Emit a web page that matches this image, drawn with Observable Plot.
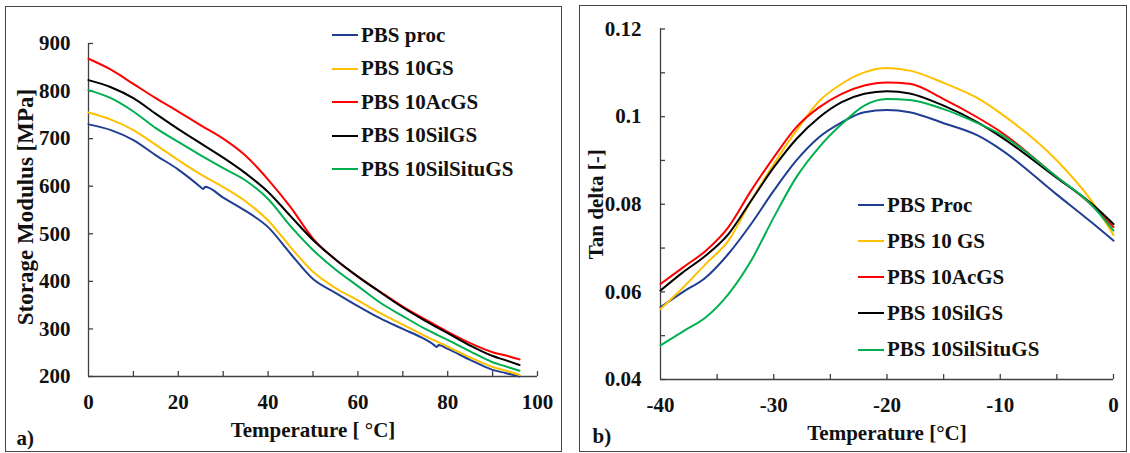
<!DOCTYPE html>
<html>
<head>
<meta charset="utf-8">
<script src="https://cdn.jsdelivr.net/npm/d3@7"></script>
<script src="https://cdn.jsdelivr.net/npm/@observablehq/plot@0.6"></script>
<style>
  html, body { margin: 0; padding: 0; background: #fff; }
  #page { position: relative; width: 1130px; height: 453px; overflow: hidden; font-family: "Liberation Serif", "Times New Roman", serif; font-weight: bold; }
  .panel { position: absolute; top: 0; }
  .box { position: absolute; border: 1.3px solid #444; box-sizing: border-box; pointer-events: none; }
  .legrow { position: absolute; display: flex; align-items: center; height: 24px; font-size: 21px; color: #111; white-space: nowrap; }
  .sw { display: inline-block; width: 26px; height: 2px; margin-right: 3px; }
</style>
</head>
<body>
<div id="page">
  <div class="panel" id="pa" style="left:0px"></div>
  <div class="panel" id="pb" style="left:565px"></div>
  <div class="box" style="left:5px; top:6px; width:557px; height:446px"></div>
  <div class="box" style="left:579px; top:5px; width:548px; height:447px"></div>
</div>
<script>
// ---------- Panel a: Storage modulus ----------
const seriesA = ["PBS proc", "PBS 10GS", "PBS 10AcGS", "PBS 10SilGS", "PBS 10SilSituGS"];
const colors = ["#1F3E93", "#FFC000", "#FF0000", "#000000", "#00B050"];

const tempA = [0, 5, 10, 15, 20, 25, 30, 35, 40, 45, 50, 55, 60, 65, 70, 75, 80, 85, 90, 93, 96];
const tempProcA = [0, 5, 10, 15, 20, 25, 25.5, 26, 30, 35, 40, 45, 50, 55, 60, 65, 70, 75, 77, 77.5, 78, 80, 85, 90, 93, 96];
const procA     = [730, 718, 697, 665, 635, 598, 594, 599, 576, 548, 514, 458, 405, 376, 348, 322, 300, 278, 266, 262, 266, 258, 235, 214, 207, 200];
const gsA       = [755, 740, 718, 687, 655, 625, 598, 568, 528, 472, 420, 386, 360, 333, 309, 285, 263, 240, 220, 212, 203];
const acgsA     = [868, 845, 815, 785, 757, 728, 700, 664, 614, 556, 490, 446, 410, 378, 347, 320, 294, 270, 251, 244, 236];
const silgsA    = [823, 808, 785, 752, 720, 690, 660, 627, 588, 537, 487, 446, 410, 377, 345, 317, 291, 265, 243, 234, 224];
const silsituA  = [802, 785, 757, 722, 693, 665, 638, 612, 573, 516, 466, 425, 390, 355, 327, 300, 277, 253, 230, 221, 212];

const yTicksA = [200, 300, 400, 500, 600, 700, 800, 900];
const xTicksA = [10, 20, 30, 40, 50, 60, 70, 80, 90, 100];
const xLabelsA = [0, 20, 40, 60, 80, 100];

// ---------- Panel b: Tan delta ----------
const seriesB = ["PBS Proc", "PBS 10 GS", "PBS 10AcGS", "PBS 10SilGS", "PBS 10SilSituGS"];
const tempB = [-40, -38, -36, -34, -32, -30, -28, -26, -24, -22, -20, -18, -15, -12, -10, -5, -2, 0];
const procB    = [0.0565, 0.0600, 0.0633, 0.0687, 0.0755, 0.0831, 0.0900, 0.0953, 0.0987, 0.1010, 0.1015, 0.1010, 0.0985, 0.0957, 0.0926, 0.0822, 0.0760, 0.0717];
const gsB      = [0.0561, 0.0610, 0.0664, 0.0717, 0.0808, 0.0892, 0.0968, 0.1035, 0.1075, 0.1101, 0.1111, 0.1105, 0.1077, 0.1042, 0.1008, 0.0900, 0.0810, 0.0730];
const acgsB    = [0.0618, 0.0656, 0.0694, 0.0748, 0.0831, 0.0907, 0.0976, 0.1021, 0.1052, 0.1071, 0.1078, 0.1075, 0.1040, 0.0998, 0.0966, 0.0862, 0.0800, 0.0748];
const silgsB   = [0.0603, 0.0645, 0.0683, 0.0732, 0.0808, 0.0884, 0.0949, 0.0998, 0.1033, 0.1052, 0.1058, 0.1053, 0.1025, 0.0987, 0.0955, 0.0860, 0.0803, 0.0755];
const silsituB = [0.0478, 0.0510, 0.0542, 0.0595, 0.0671, 0.0770, 0.0862, 0.0930, 0.0983, 0.1025, 0.1040, 0.1038, 0.1017, 0.0985, 0.0960, 0.0862, 0.0800, 0.0740];

const yTicksB = [0.04, 0.05, 0.06, 0.07, 0.08, 0.09, 0.10, 0.11, 0.12];
const yLabelsB = [0.04, 0.06, 0.08, 0.10, 0.12];
const xTicksB = [-35, -30, -25, -20, -15, -10, -5, 0];
const xLabelsB = [-40, -30, -20, -10, 0];

// ---------- build tables ----------
const rowsA = [];
[procA, gsA, acgsA, silgsA, silsituA].forEach((vals, i) => {
  const ts = i === 0 ? tempProcA : tempA;
  vals.forEach((v, j) => rowsA.push({s: seriesA[i], c: colors[i], t: ts[j], v}));
});
const rowsB = [];
[procB, gsB, acgsB, silgsB, silsituB].forEach((vals, i) => {
  vals.forEach((v, j) => rowsB.push({s: seriesB[i], c: colors[i], t: tempB[j], v}));
});

const font = {fontFamily: "'Liberation Serif', 'Times New Roman', serif", fontWeight: "bold", fontSize: "21px", color: "#111", background: "transparent", overflow: "visible"};
const axisColor = "#404040";
const plain = d => String(d);

// Panel a
const wA = 565, hA = 453, mlA = 88, mrA = 28, mtA = 43, mbA = 77;
const pwA = wA - mlA - mrA, phA = hA - mtA - mbA;
const plotA = Plot.plot({
  width: wA, height: hA, marginLeft: mlA, marginRight: mrA, marginTop: mtA, marginBottom: mbA,
  x: {domain: [0, 100]}, y: {domain: [200, 900]},
  style: font,
  marks: [
    Plot.axisY(yTicksA, {tickSize: 0, tickPadding: 18, label: null, tickFormat: plain, fill: "#111"}),
    Plot.axisX(xLabelsA, {tickSize: 0, tickPadding: 18, label: null, tickFormat: plain, fill: "#111"}),
    Plot.ruleX([0], {stroke: axisColor, strokeWidth: 1.3}),
    Plot.ruleY([200], {stroke: axisColor, strokeWidth: 1.3}),
    Plot.tickY(yTicksA, {y: d => d, insetRight: pwA - 5, stroke: axisColor, strokeWidth: 1.3}),
    Plot.tickX(xTicksA, {x: d => d, insetTop: phA - 5, stroke: axisColor, strokeWidth: 1.3}),
    Plot.line(rowsA, {x: "t", y: "v", z: "s", stroke: "c", strokeWidth: 2, curve: "monotone-x"}),
    Plot.text(["Temperature [ °C]"], {frameAnchor: "bottom", dy: 54, textAnchor: "middle", lineAnchor: "middle", fill: "#111"}),
    Plot.text(["Storage Modulus [MPa]"], {frameAnchor: "left", dx: -63, dy: -3, rotate: -90, textAnchor: "middle", lineAnchor: "middle", fontSize: 23, fill: "#111"}),
    Plot.text(["a)"], {frameAnchor: "bottom-left", dx: -72, dy: 62, textAnchor: "start", lineAnchor: "middle", fill: "#111"})
  ]
});
document.getElementById("pa").appendChild(plotA);

// Panel b
const wB = 565, hB = 453, mlB = 95, mrB = 17, mtB = 28.5, mbB = 74;
const pwB = wB - mlB - mrB, phB = hB - mtB - mbB;
const plotB = Plot.plot({
  width: wB, height: hB, marginLeft: mlB, marginRight: mrB, marginTop: mtB, marginBottom: mbB,
  x: {domain: [-40, 0]}, y: {domain: [0.04, 0.12]},
  style: font,
  marks: [
    Plot.axisY(yLabelsB, {tickSize: 0, tickPadding: 19, label: null, tickFormat: d => String(+d.toFixed(2)), fill: "#111"}),
    Plot.axisX(xLabelsB, {tickSize: 0, tickPadding: 17.5, label: null, tickFormat: plain, fill: "#111"}),
    Plot.ruleX([-40], {stroke: axisColor, strokeWidth: 1.3}),
    Plot.ruleY([0.04], {stroke: axisColor, strokeWidth: 1.3}),
    Plot.tickY(yTicksB, {y: d => d, insetRight: pwB - 5, stroke: axisColor, strokeWidth: 1.3}),
    Plot.tickX(xTicksB, {x: d => d, insetTop: phB - 5, stroke: axisColor, strokeWidth: 1.3}),
    Plot.line(rowsB, {x: "t", y: "v", z: "s", stroke: "c", strokeWidth: 2, curve: "monotone-x"}),
    Plot.text(["Temperature [°C]"], {frameAnchor: "bottom", dy: 54, textAnchor: "middle", lineAnchor: "middle", fill: "#111"}),
    Plot.text(["Tan delta [-]"], {frameAnchor: "left", dx: -64.5, rotate: -90, textAnchor: "middle", lineAnchor: "middle", fill: "#111"}),
    Plot.text(["b)"], {frameAnchor: "bottom-left", dx: -68, dy: 57, textAnchor: "start", lineAnchor: "middle", fill: "#111"})
  ]
});
document.getElementById("pb").appendChild(plotB);

// Legends
const page = document.getElementById("page");
function legend(names, left, tops) {
  names.forEach((n, i) => {
    const row = document.createElement("div");
    row.className = "legrow";
    row.style.left = left + "px";
    row.style.top = (tops[i] - 12) + "px";
    const sw = document.createElement("span");
    sw.className = "sw";
    sw.style.background = colors[i];
    row.appendChild(sw);
    row.appendChild(document.createTextNode(n));
    page.appendChild(row);
  });
}
legend(seriesA, 332, [35, 68.5, 102, 135.5, 169]);
legend(seriesB, 858, [205, 241, 277, 313, 349.5]);
</script>
</body>
</html>
